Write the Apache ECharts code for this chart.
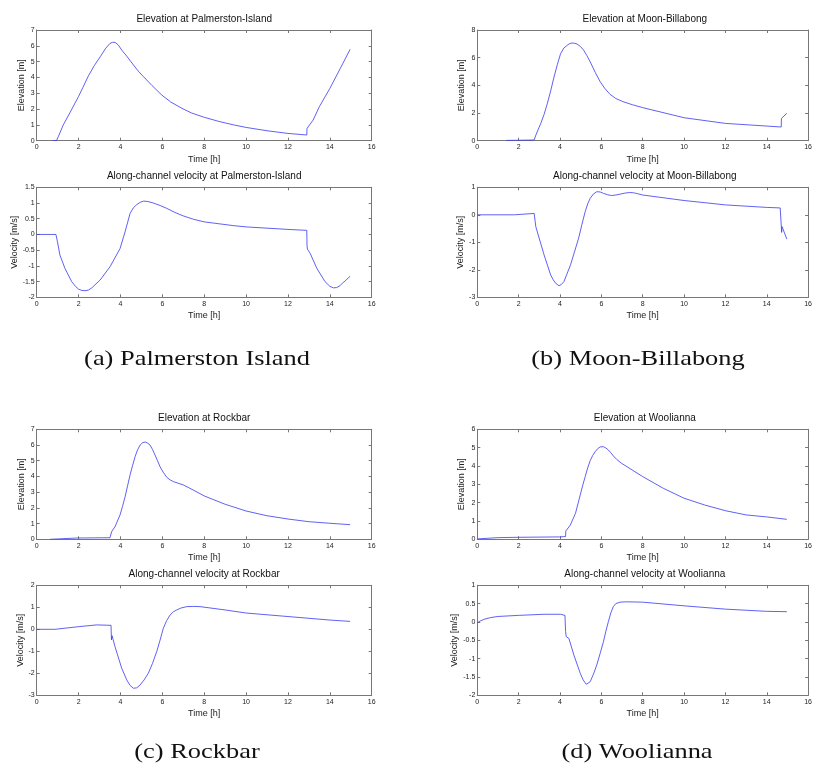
<!DOCTYPE html>
<html>
<head>
<meta charset="utf-8">
<script src="https://cdn.jsdelivr.net/npm/echarts@6/dist/echarts.min.js"></script>
<style>
html,body{margin:0;padding:0;background:#fff;}
#chart{width:815px;height:767px;}
</style>
</head>
<body>
<div id="chart"></div>
<script>
// ---------- DATA ----------
const xTicks = [0, 2, 4, 6, 8, 10, 12, 14, 16];

// (a) Palmerston Island
const palmElevT = [0.75,0.95,1.03,1.27,1.6,2.0,2.2,2.47,2.75,3.03,3.3,3.5,3.62,3.74,3.9,4.06,4.3,4.62,4.85,5.1,5.5,5.97,6.4,6.93,7.4,8.0,8.7,9.4,10.0,11.0,12.0,12.90,12.91,13.2,13.5,14.0,14.5,14.97];
const palmElevV = [0.0,0.02,0.25,1.0,1.8,2.8,3.35,4.1,4.75,5.3,5.85,6.15,6.22,6.22,6.05,5.73,5.35,4.79,4.4,4.05,3.5,2.89,2.45,2.05,1.75,1.48,1.22,1.0,0.84,0.63,0.46,0.36,0.78,1.3,2.15,3.3,4.57,5.78];
const palmVelT = [0,0.92,0.99,1.11,1.35,1.67,1.85,2.0,2.15,2.31,2.47,2.63,3.03,3.5,3.98,4.22,4.46,4.62,4.78,4.94,5.1,5.3,5.57,5.9,6.21,6.6,7.0,7.5,8.0,9.4,10.0,12.0,12.90,12.91,12.93,12.95,13.06,13.38,13.77,14.0,14.17,14.33,14.49,14.6,14.73,14.97];
const palmVelV = [0,0,-0.23,-0.66,-1.08,-1.5,-1.65,-1.74,-1.78,-1.79,-1.77,-1.7,-1.45,-1.03,-0.45,0.08,0.67,0.85,0.95,1.02,1.06,1.05,1.0,0.92,0.83,0.7,0.59,0.48,0.4,0.28,0.24,0.16,0.13,-0.34,-0.47,-0.45,-0.6,-1.08,-1.5,-1.65,-1.7,-1.69,-1.63,-1.55,-1.48,-1.33];

// (b) Moon-Billabong
const moonElevT = [1.4,2.75,2.83,3.07,3.23,3.39,3.55,3.71,3.87,4.03,4.19,4.35,4.47,4.59,4.7,4.82,4.98,5.14,5.3,5.46,5.7,5.94,6.18,6.42,6.7,7.05,7.5,8.0,10.0,12.0,13.98,14.70,14.71,14.78,14.97];
const moonElevV = [0.02,0.05,0.4,1.25,1.9,2.7,3.6,4.6,5.5,6.3,6.7,6.9,7.02,7.06,7.04,6.99,6.82,6.55,6.15,5.7,4.95,4.27,3.75,3.35,3.05,2.82,2.6,2.39,1.66,1.25,1.06,0.99,1.61,1.54,1.98];
const moonVelT = [0,1.8,1.85,2.75,2.8,2.83,2.91,3.23,3.55,3.67,3.79,3.87,3.95,4.07,4.19,4.51,4.7,4.9,5.06,5.22,5.34,5.46,5.62,5.78,5.94,6.1,6.3,6.5,6.7,6.9,7.15,7.37,7.55,7.69,8.0,10.0,12.0,13.98,14.65,14.70,14.72,14.74,14.97];
const moonVelV = [0,0,0.04,0.05,-0.25,-0.43,-0.49,-1.46,-2.19,-2.36,-2.49,-2.55,-2.58,-2.53,-2.43,-1.82,-1.35,-0.85,-0.35,0.12,0.4,0.6,0.76,0.84,0.83,0.78,0.73,0.7,0.72,0.75,0.79,0.81,0.8,0.78,0.72,0.52,0.36,0.27,0.25,-0.37,-0.64,-0.43,-0.88];

// (c) Rockbar
const rockElevT = [0.64,1.9,3.5,3.58,3.74,3.98,4.1,4.22,4.34,4.46,4.58,4.7,4.82,4.94,5.06,5.18,5.3,5.41,5.53,5.65,5.77,5.89,6.05,6.21,6.37,6.53,6.75,7.0,7.5,8.0,9.0,10.0,11.0,12.0,13.0,14.0,14.97];
const rockElevV = [0.0,0.08,0.1,0.49,0.8,1.55,2.1,2.7,3.4,4.1,4.7,5.26,5.7,6.0,6.15,6.19,6.12,6.0,5.72,5.37,5.0,4.62,4.25,3.95,3.78,3.67,3.57,3.46,3.12,2.76,2.23,1.8,1.5,1.29,1.12,1.02,0.93];
const rockVelT = [0,0.88,2.0,2.87,3.55,3.57,3.60,3.74,4.06,4.3,4.46,4.62,4.78,4.94,5.13,5.33,5.53,5.73,5.89,6.05,6.21,6.37,6.53,6.69,6.9,7.17,7.5,7.8,9.0,10.0,12.0,14.0,14.97];
const rockVelV = [0,0,0.12,0.2,0.18,-0.48,-0.29,-0.79,-1.77,-2.3,-2.55,-2.68,-2.66,-2.53,-2.3,-2.0,-1.55,-1.02,-0.5,0.05,0.4,0.65,0.8,0.88,0.97,1.03,1.04,1.03,0.88,0.74,0.58,0.42,0.36];

// (d) Woolianna
const woolElevT = [0,1.0,2.0,3.98,4.27,4.28,4.5,4.75,4.98,5.1,5.22,5.34,5.46,5.58,5.7,5.82,5.94,6.02,6.1,6.22,6.34,6.46,6.58,6.75,6.97,8.0,9.0,10.0,11.0,12.0,13.0,14.0,14.97];
const woolElevV = [0.02,0.09,0.11,0.13,0.15,0.45,0.78,1.42,2.42,2.95,3.42,3.9,4.29,4.57,4.78,4.94,5.04,5.06,5.05,4.98,4.87,4.72,4.55,4.35,4.15,3.42,2.78,2.24,1.87,1.56,1.33,1.22,1.09];
const woolVelT = [0,0.15,0.37,0.65,1.0,2.0,3.23,4.03,4.24,4.27,4.30,4.43,4.67,4.98,5.12,5.27,5.36,5.46,5.62,5.78,5.94,6.1,6.22,6.34,6.46,6.58,6.7,6.9,7.21,8.0,10.0,12.0,14.0,14.97];
const woolVelV = [-0.02,0.03,0.08,0.12,0.15,0.18,0.21,0.21,0.18,-0.26,-0.4,-0.45,-0.9,-1.4,-1.58,-1.7,-1.69,-1.63,-1.42,-1.17,-0.86,-0.54,-0.25,0.01,0.25,0.42,0.5,0.54,0.55,0.54,0.44,0.35,0.29,0.28];

const titles = [
  'Elevation at Palmerston-Island', 'Along-channel velocity at Palmerston-Island',
  'Elevation at Moon-Billabong', 'Along-channel velocity at Moon-Billabong',
  'Elevation at Rockbar', 'Along-channel velocity at Rockbar',
  'Elevation at Woolianna', 'Along-channel velocity at Woolianna'
];
const yNames = ['Elevation [m]', 'Velocity [m/s]'];
const xName = 'Time [h]';
const captions = ['(a) Palmerston Island', '(b) Moon-Billabong', '(c) Rockbar', '(d) Woolianna'];

// y-axis ranges [min, max, interval]
const yRanges = [
  [0, 7, 1], [-2, 1.5, 0.5],
  [0, 8, 2], [-3, 1, 1],
  [0, 7, 1], [-3, 2, 1],
  [0, 6, 1], [-2, 1, 0.5]
];

const seriesT = [palmElevT, palmVelT, moonElevT, moonVelT, rockElevT, rockVelT, woolElevT, woolVelT];
const seriesV = [palmElevV, palmVelV, moonElevV, moonVelV, rockElevV, rockVelV, woolElevV, woolVelV];

// ---------- LAYOUT ----------
const L1 = 36.7, L2 = 477.3, W = 335;
const gridBoxes = [
  {left: L1, top: 30,    height: 110.7},
  {left: L1, top: 187.3, height: 110},
  {left: L2, top: 30,    height: 110.7},
  {left: L2, top: 187.3, height: 110},
  {left: L1, top: 429.3, height: 110},
  {left: L1, top: 585.3, height: 110},
  {left: L2, top: 429.3, height: 110},
  {left: L2, top: 585.3, height: 110}
];
const captionPos = [[197, 359], [638, 359], [197, 752], [637, 752]];

const axisColor = '#777';
const labelColor = '#222';
const sans = 'Liberation Sans, Arial, sans-serif';

const grid = [], xAxis = [], yAxis = [], series = [], graphic = [];
gridBoxes.forEach((g, i) => {
  grid.push({left: g.left, top: g.top, width: W, height: g.height, containLabel: false});
  const [ymin, ymax, yint] = yRanges[i];
  const common = {
    gridIndex: i, type: 'value', splitLine: {show: false},
    axisLine: {show: true, onZero: false, lineStyle: {color: axisColor, width: 1}},
    axisTick: {show: true, inside: true, length: 3, lineStyle: {color: axisColor}}
  };
  xAxis.push(Object.assign({}, common, {
    position: 'bottom', min: xTicks[0], max: xTicks[xTicks.length - 1], interval: xTicks[1] - xTicks[0],
    axisLabel: {show: true, fontSize: 7, color: labelColor, fontFamily: sans, margin: 3},
    name: xName, nameLocation: 'middle', nameGap: 14,
    nameTextStyle: {fontSize: 9, color: labelColor, fontFamily: sans}
  }));
  xAxis.push(Object.assign({}, common, {
    position: 'top', min: xTicks[0], max: xTicks[xTicks.length - 1], interval: xTicks[1] - xTicks[0],
    axisLabel: {show: false}
  }));
  yAxis.push(Object.assign({}, common, {
    position: 'left', min: ymin, max: ymax, interval: yint,
    axisLabel: {show: true, fontSize: 7, color: labelColor, fontFamily: sans, margin: 2},
    name: yNames[i % 2], nameLocation: 'middle', nameGap: 11,
    nameTextStyle: {fontSize: 9, color: labelColor, fontFamily: sans}
  }));
  yAxis.push(Object.assign({}, common, {
    position: 'right', min: ymin, max: ymax, interval: yint,
    axisLabel: {show: false}
  }));
  const data = seriesT[i].map((t, k) => [t, seriesV[i][k]]);
  series.push({
    type: 'line', xAxisIndex: 2 * i, yAxisIndex: 2 * i, data: data,
    showSymbol: false, symbol: 'none', smooth: false, clip: true,
    lineStyle: {color: '#3838f0', width: 0.8}, animation: false
  });
  graphic.push({
    type: 'text',
    x: g.left + W / 2, y: g.top - 11,
    style: {text: titles[i], textAlign: 'center', textVerticalAlign: 'middle',
            font: '10px ' + sans, fill: '#111'}
  });
});
captions.forEach((c, i) => {
  graphic.push({
    type: 'text', x: captionPos[i][0], y: captionPos[i][1], scaleX: 1.2,
    style: {text: c, textAlign: 'center', textVerticalAlign: 'middle',
            font: '22px "Liberation Serif", "DejaVu Serif", serif', fill: '#111'}
  });
});

const chart = echarts.init(document.getElementById('chart'), null, {renderer: 'canvas'});
chart.setOption({
  animation: false,
  backgroundColor: '#fff',
  grid, xAxis, yAxis, series, graphic
});
</script>
</body>
</html>
